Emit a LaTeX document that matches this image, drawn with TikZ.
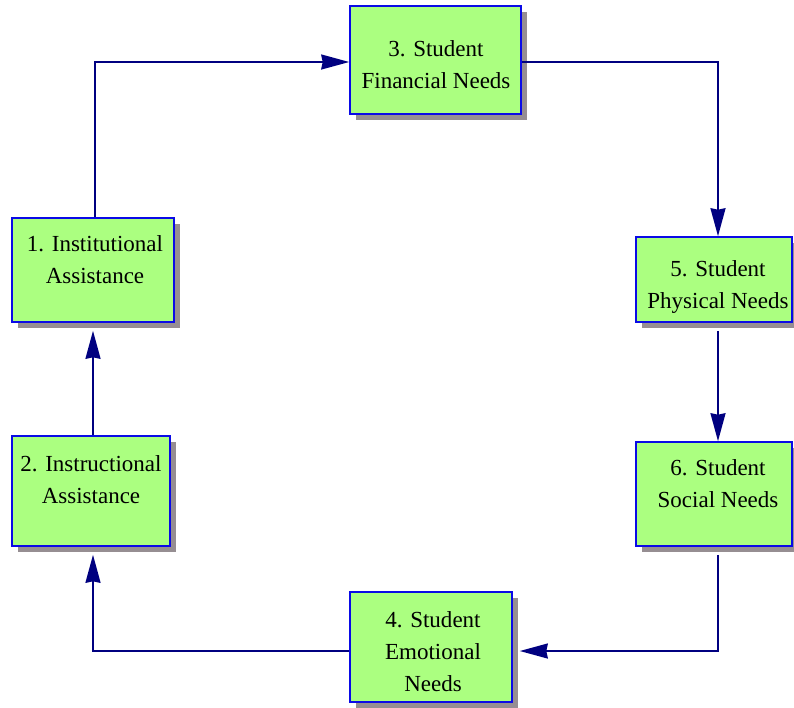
\documentclass[tikz,border=0pt]{standalone}
\usepackage{fontspec}
\setmainfont{Liberation Serif}
\usetikzlibrary{arrows.meta,shadows,calc}
\definecolor{boxfill}{RGB}{171,255,128}
\definecolor{boxline}{RGB}{10,10,230}
\definecolor{arrowc}{RGB}{0,0,128}
\definecolor{shadowc}{RGB}{150,142,146}
\tikzset{
  box/.style={draw=boxline, line width=1.6pt, fill=boxfill, inner sep=0pt,
    drop shadow={shadow xshift=6pt, shadow yshift=-6pt, fill=shadowc, opacity=1}},
  lbl/.style={align=center, font=\fontsize{23}{32}\selectfont, inner sep=0pt},
  conn/.style={draw=arrowc, line width=1.8pt, -{Stealth[length=28pt,width=15pt,inset=1.5pt]}}
}
\begin{document}
\begin{tikzpicture}[x=1pt,y=-1pt]
\useasboundingbox (0,0) rectangle (794,707);
\node[box, minimum width=171pt, minimum height=108pt] (b3) at (435.5,60) {};
\node[box, minimum width=162pt, minimum height=104pt] (b1) at (93,270) {};
\node[box, minimum width=158pt, minimum height=110pt] (b2) at (91,491) {};
\node[box, minimum width=156pt, minimum height=85pt] (b5) at (714,279.5) {};
\node[box, minimum width=156pt, minimum height=104pt] (b6) at (714,494) {};
\node[box, minimum width=162pt, minimum height=110pt] (b4) at (431,647) {};

\node[lbl] (t3) at (436,65) {3. Student\\Financial Needs};
\node[lbl] (t1) at (95,260) {1. Institutional\\Assistance};
\node[lbl] (t2) at (91,480) {2. Instructional\\Assistance};
\node[lbl] (t5) at (718,287) {5. Student\\Physical Needs};
\node[lbl] (t6) at (718,484) {6. Student\\Social Needs};
\node[lbl] (t4) at (433,652) {4. Student\\Emotional\\Needs};

\coordinate (e5) at ($(b5.north)+(4,0)$);
\coordinate (s5) at ($(b5.south)+(4,8)$);
\coordinate (n6) at ($(b6.north)+(4,0)$);
\coordinate (s6) at ($(b6.south)+(4,8)$);
\coordinate (w4) at ($(b4.west)+(0,4)$);
\coordinate (e4) at ($(b4.east)+(7,4)$);
\coordinate (s2) at ($(b2.south)+(2,8)$);
\coordinate (n2) at ($(b2.north)+(2,0)$);
\coordinate (s1) at ($(b1.south)+(0,8)$);
\coordinate (n1) at ($(b1.north)+(2,0)$);
\coordinate (w3) at ($(b3.west)+(0,2)$);
\coordinate (e3) at ($(b3.east)+(0,2)$);

\draw[conn] (n1) |- (w3);
\draw[conn] (e3) -| (e5);
\draw[conn] (s5) -- (n6);
\draw[conn] (s6) |- (e4);
\draw[conn] (w4) -| (s2);
\draw[conn] (n2) -- (n2 |- s1);
\end{tikzpicture}
\end{document}
